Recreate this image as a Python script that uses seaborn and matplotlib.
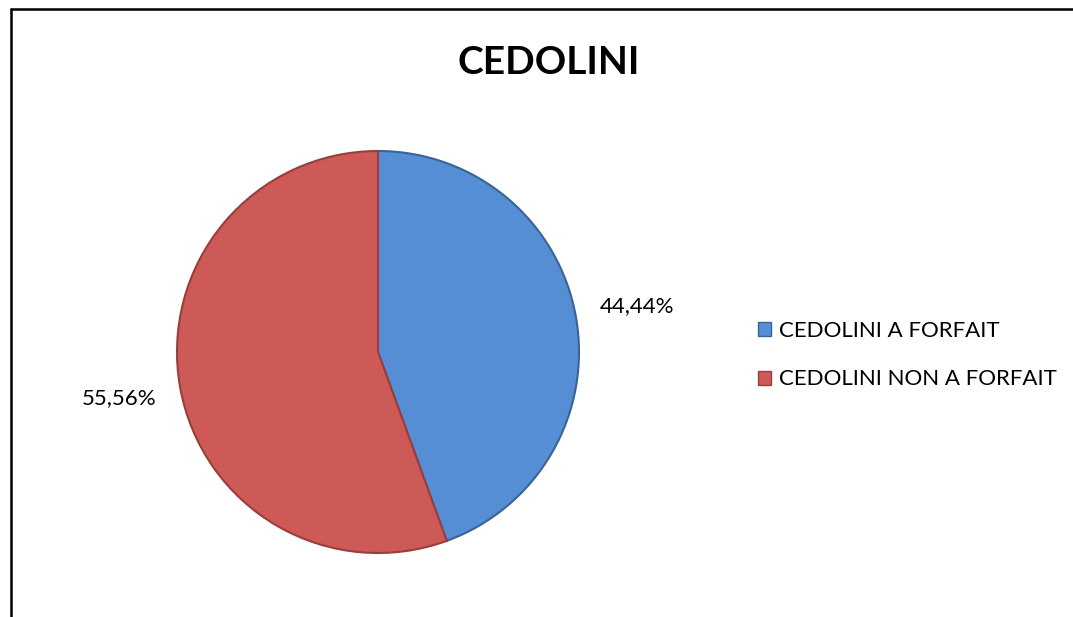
import seaborn as sns
import matplotlib.pyplot as plt
from matplotlib.lines import Line2D
from matplotlib.patches import Patch

categories = ["CEDOLINI A FORFAIT", "CEDOLINI NON A FORFAIT"]
shares = [44.44, 55.56]
title = "CEDOLINI"

sns.set_style("white")
plt.rcParams['font.family'] = ['Lato', 'DejaVu Sans']

colors = ['#558ED5', '#CD5A57']
edges = ['#3A6496', '#9A3E3C']

fig = plt.figure(figsize=(10.73, 6.17), dpi=100)
# pie: centre ~ (378, 352) px, radius ~ 201 px
ax = fig.add_axes([177 / 1073, (617 - 553) / 617, 402 / 1073, 402 / 617])

wedges, texts, autotexts = ax.pie(
    shares,
    colors=colors,
    startangle=90,
    counterclock=False,
    autopct=lambda p: f"{p:.2f}%".replace('.', ','),
    pctdistance=1.31,
    wedgeprops=dict(linewidth=1.5),
    textprops=dict(fontsize=16, color='black'),
)
for w, e in zip(wedges, edges):
    w.set_edgecolor(e)
ax.set_xlim(-1, 1)
ax.set_ylim(-1, 1)
ax.set_aspect('equal')
ax.axis('off')

fig.text(0.511, 1 - 63 / 617, title, ha='center', va='center', fontsize=28,
         fontweight='bold', color='black')

handles = [Patch(facecolor=c, edgecolor=e, linewidth=1) for c, e in zip(colors, edges)]
leg = fig.legend(handles, categories, loc='center left', bbox_to_anchor=(738 / 1073, (617 - 355) / 617),
                 frameon=False, fontsize=16, handlelength=0.6, handleheight=0.6,
                 handletextpad=0.35, labelspacing=1.3)
for t in leg.get_texts():
    t.set_color('black')

# frame lines (top and left only)
fig.add_artist(Line2D([11 / 1073, 1.0], [1 - 9 / 617, 1 - 9 / 617], transform=fig.transFigure,
                      color='black', linewidth=1.8))
fig.add_artist(Line2D([11 / 1073, 11 / 1073], [0.0, 1 - 9 / 617], transform=fig.transFigure,
                      color='black', linewidth=1.8))

fig.savefig('out.png', dpi=100)
